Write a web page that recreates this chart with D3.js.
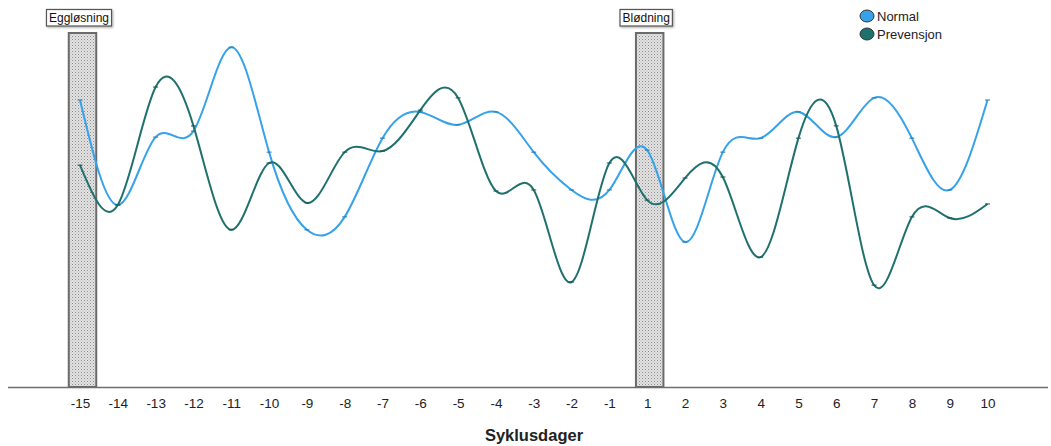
<!DOCTYPE html>
<html>
<head>
<meta charset="utf-8">
<script src="https://cdn.jsdelivr.net/npm/d3@7"></script>
<style>
  html, body { margin: 0; padding: 0; background: #fff; }
  svg { display: block; font-family: "Liberation Sans", Arial, sans-serif; }
</style>
</head>
<body>
<svg id="chart" width="1051" height="446"></svg>
<script>
// Cycle days (no day 0)
const days = ["-15","-14","-13","-12","-11","-10","-9","-8","-7","-6","-5","-4","-3","-2","-1","1","2","3","4","5","6","7","8","9","10"];

// Mean score per cycle day
const normal = [82.0, 52.0, 71.4, 73.1, 97.1, 67.1, 44.9, 48.6, 71.1, 78.6, 74.9, 78.6, 67.1, 56.3, 56.3, 67.7, 41.4, 67.1, 71.1, 78.6, 71.4, 82.6, 71.1, 56.3, 82.0];
const prevensjon = [63.4, 52.0, 85.7, 74.6, 44.9, 64.0, 52.6, 67.1, 67.4, 79.1, 82.6, 56.0, 56.3, 30.0, 64.0, 53.4, 59.7, 60.0, 37.1, 71.1, 74.6, 29.1, 48.6, 48.3, 52.3];

const seriesNames = ["Normal", "Prevensjon"];
const seriesColors = ["#35a2ea", "#1f716d"];

// Marked phases
const phaseLabels = ["Eggløsning", "Blødning"];
const phaseDays = ["-15", "1"];

const svg = d3.select("#chart");

const x = d3.scalePoint().domain(days).range([80, 987.5]);
const y = d3.scaleLinear().domain([0, 100]).range([387, 37]);

// Dotted fill for the phase bars
const defs = svg.append("defs");
const pat = defs.append("pattern")
  .attr("id", "dots").attr("patternUnits", "userSpaceOnUse")
  .attr("width", 3).attr("height", 3);
pat.append("rect").attr("width", 3).attr("height", 3).attr("fill", "#e4e4e4");
pat.append("rect").attr("x", 0).attr("y", 0).attr("width", 1).attr("height", 1).attr("fill", "#8a8a8a");
pat.append("rect").attr("x", 1.5).attr("y", 1.5).attr("width", 1).attr("height", 1).attr("fill", "#a8a8a8");

// Drop shadow for the phase labels
const sh = defs.append("filter").attr("id", "shadow").attr("x", "-10%").attr("y", "-20%")
  .attr("width", "130%").attr("height", "160%");
sh.append("feDropShadow").attr("dx", 1).attr("dy", 1).attr("stdDeviation", 0.8)
  .attr("flood-color", "#000").attr("flood-opacity", 0.35);

// Phase bars
const barW = 27.5;
const phases = phaseDays.map((d, i) => ({ day: d, label: phaseLabels[i] }));
svg.append("g").selectAll("rect").data(phases).join("rect")
  .attr("x", d => x(d.day) + 2.5 - barW / 2)
  .attr("y", y(100) - 4)
  .attr("width", barW)
  .attr("height", y(0) - y(100) + 4)
  .attr("fill", "url(#dots)")
  .attr("stroke", "#6b6b6b")
  .attr("stroke-width", 2);

// Axis
const axisG = svg.append("g").attr("transform", `translate(0,${y(0)})`);
axisG.append("line").attr("x1", 8).attr("x2", 1048).attr("y1", 0.5).attr("y2", 0.5)
  .attr("stroke", "#6e6e6e").attr("stroke-width", 1.5);
const axis = d3.axisBottom(x).tickSize(0).tickPadding(11);
const ax = axisG.append("g").call(axis);
ax.select(".domain").remove();
ax.selectAll("text").attr("font-size", 13.5).attr("fill", "#222")
  .attr("font-family", "'Liberation Sans', Arial, sans-serif");

svg.append("text")
  .attr("x", 534).attr("y", 441)
  .attr("text-anchor", "middle")
  .attr("font-size", 16.5).attr("font-weight", "bold").attr("fill", "#222")
  .text("Syklusdager");

// Series lines
const line = d3.line()
  .x((d, i) => x(days[i]))
  .y(d => y(d))
  .curve(d3.curveNatural);

const allSeries = [normal, prevensjon];
allSeries.forEach((vals, s) => {
  svg.append("path")
    .datum(vals)
    .attr("d", line)
    .attr("fill", "none")
    .attr("stroke", seriesColors[s])
    .attr("stroke-width", 2);
  // small point markers
  svg.append("g").selectAll("line").data(vals).join("line")
    .attr("x1", (d, i) => x(days[i]) - 2.5)
    .attr("x2", (d, i) => x(days[i]) + 2.5)
    .attr("y1", d => y(d)).attr("y2", d => y(d))
    .attr("stroke", d3.color(seriesColors[s]).darker(0.8))
    .attr("stroke-width", 1);
});

// Phase labels
phases.forEach(p => {
  const g = svg.append("g");
  const t = g.append("text")
    .attr("x", x(p.day) - 1).attr("y", 21.5)
    .attr("text-anchor", "middle")
    .attr("font-size", 12).attr("fill", "#111")
    .text(p.label);
  const bb = t.node().getBBox();
  g.insert("rect", "text")
    .attr("x", bb.x - 2.5).attr("y", 9.5)
    .attr("width", bb.width + 5).attr("height", 16.5)
    .attr("fill", "#fff").attr("stroke", "#555").attr("stroke-width", 1.2)
    .attr("filter", "url(#shadow)");
});

// Legend
const legend = svg.append("g").attr("transform", "translate(867,16)");
seriesNames.forEach((name, i) => {
  const row = legend.append("g").attr("transform", `translate(0,${i * 18})`);
  row.append("ellipse").attr("rx", 7).attr("ry", 6)
    .attr("fill", seriesColors[i]).attr("stroke", "#333").attr("stroke-width", 1);
  row.append("text").attr("x", 10).attr("y", 5)
    .attr("font-size", 13).attr("fill", "#222")
    .text(name);
});
</script>
</body>
</html>
